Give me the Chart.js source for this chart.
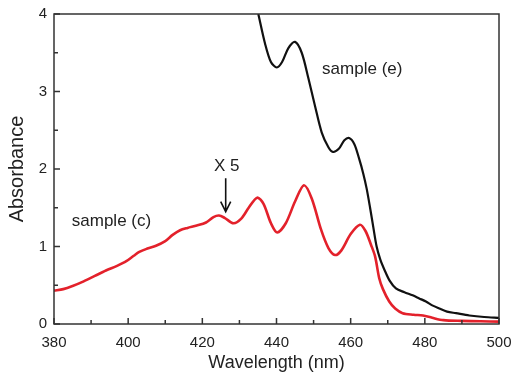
<!DOCTYPE html>
<html>
<head>
<meta charset="utf-8">
<script src="https://cdn.jsdelivr.net/npm/chart.js@4"></script>
<style>
  html, body { margin: 0; padding: 0; background: #fff; }
  #wrap { width: 516px; height: 375px; }
</style>
</head>
<body>
<div id="wrap"><canvas id="absCanvas" width="516" height="375"></canvas></div>
<script>
// sample (c), shown x 5
var wlC = [380, 382.5, 385, 388, 391, 394, 397, 399.5, 401.5, 403, 405, 407.5, 410, 412, 414, 416, 418.5, 421, 423, 424.5,
  426, 428.4, 430.5, 432.5, 434.8, 436.5, 438.5, 440.2, 442.5, 445, 447.4, 449.5, 452, 454, 455.8, 457.5, 460, 462.5,
  464, 465.5, 466.6, 467.7, 468.7, 470.4, 472, 474, 477, 479.5, 482, 485, 490, 495, 500];
var absC = [0.43, 0.45, 0.49, 0.55, 0.62, 0.69, 0.75, 0.81, 0.88, 0.93, 0.97, 1.01, 1.07, 1.15, 1.21, 1.24, 1.27, 1.31, 1.38, 1.40,
  1.37, 1.30, 1.36, 1.50, 1.63, 1.55, 1.30, 1.18, 1.30, 1.58, 1.79, 1.62, 1.22, 0.98, 0.89, 0.95, 1.16, 1.28,
  1.20, 1.02, 0.87, 0.59, 0.45, 0.29, 0.20, 0.14, 0.12, 0.11, 0.08, 0.05, 0.04, 0.035, 0.03];

// sample (e)
var wlE = [435.1, 436.9, 438.5, 440.1, 441.5, 443.2, 445, 446.8, 448.6, 450.4, 452.2, 454, 455.2, 456.8, 458.3, 459.6,
  461, 462.3, 463.4, 464.3, 465.2, 466.1, 467, 468, 469.1, 470.5, 472.2, 474.5, 476.7, 478.5, 480.3, 482, 483.9,
  486, 488.4, 492, 496, 500];
var absE = [4.0, 3.62, 3.38, 3.31, 3.38, 3.56, 3.64, 3.50, 3.17, 2.81, 2.47, 2.28, 2.22, 2.26, 2.37, 2.40,
  2.32, 2.13, 1.94, 1.75, 1.51, 1.25, 1.00, 0.83, 0.70, 0.56, 0.46, 0.41, 0.37, 0.33, 0.29, 0.24, 0.20,
  0.16, 0.14, 0.11, 0.09, 0.08];

var xMajor = [380, 400, 420, 440, 460, 480, 500];
var yMajor = [0, 1, 2, 3, 4];

function pts(xs, ys) {
  return xs.map(function (x, i) { return { x: x, y: ys[i] }; });
}

var textColor = '#222';
var font = '"Liberation Sans", Arial, Helvetica, sans-serif';

// frame, inward ticks and the labels inside the plot
var framePlugin = {
  id: 'frame',
  afterDraw: function (chart) {
    var ctx = chart.ctx, a = chart.chartArea;
    var xs = chart.scales.x, ys = chart.scales.y;
    ctx.save();
    ctx.strokeStyle = '#333';
    ctx.lineWidth = 1.5;
    ctx.strokeRect(a.left, a.top, a.right - a.left, a.bottom - a.top);
    ctx.beginPath();
    xs.ticks.forEach(function (t) {
      var px = xs.getPixelForValue(t.value);
      var len = xMajor.indexOf(t.value) >= 0 ? 6 : 4;
      ctx.moveTo(px, a.bottom);
      ctx.lineTo(px, a.bottom - len);
    });
    ys.ticks.forEach(function (t) {
      var py = ys.getPixelForValue(t.value);
      var len = yMajor.indexOf(t.value) >= 0 ? 6 : 4;
      ctx.moveTo(a.left, py);
      ctx.lineTo(a.left + len, py);
    });
    ctx.stroke();

    ctx.fillStyle = textColor;
    ctx.font = '17px ' + font;
    ctx.textBaseline = 'middle';
    ctx.textAlign = 'left';
    ctx.fillText('sample (e)', xs.getPixelForValue(452.3), ys.getPixelForValue(3.29));
    ctx.fillText('sample (c)', xs.getPixelForValue(384.8), ys.getPixelForValue(1.32));
    ctx.textAlign = 'center';
    ctx.fillText('X 5', xs.getPixelForValue(426.6), ys.getPixelForValue(2.03));

    // arrow
    var ax = xs.getPixelForValue(426.3);
    var y0 = ys.getPixelForValue(1.88), y1 = ys.getPixelForValue(1.45);
    ctx.strokeStyle = '#111';
    ctx.lineWidth = 1.6;
    ctx.beginPath();
    ctx.moveTo(ax, y0);
    ctx.lineTo(ax, y1 - 2);
    ctx.moveTo(ax - 5, y1 - 10);
    ctx.lineTo(ax, y1);
    ctx.lineTo(ax + 5, y1 - 10);
    ctx.stroke();
    ctx.restore();
  }
};

new Chart(document.getElementById('absCanvas'), {
  type: 'line',
  data: {
    datasets: [{
      label: 'sample (c)',
      data: pts(wlC, absC),
      borderColor: '#e3212b',
      borderWidth: 2.6,
      pointRadius: 0,
      tension: 0.3,
      fill: false,
      clip: 0
    }, {
      label: 'sample (e)',
      data: pts(wlE, absE),
      borderColor: '#111',
      borderWidth: 2.2,
      pointRadius: 0,
      tension: 0.3,
      fill: false,
      clip: 0
    }]
  },
  options: {
    responsive: false,
    animation: false,
    events: [],
    layout: { padding: { top: 14, right: 17, left: 0, bottom: 0 } },
    plugins: {
      legend: { display: false },
      tooltip: { enabled: false }
    },
    scales: {
      x: {
        type: 'linear',
        min: 380,
        max: 500,
        afterFit: function (s) { s.height = 51; s.paddingLeft = 0; s.paddingRight = 0; },
        grid: { display: false, drawTicks: false },
        border: { display: false },
        ticks: {
          stepSize: 10,
          padding: 10,
          maxRotation: 0,
          autoSkip: false,
          color: textColor,
          font: { family: font, size: 15 },
          callback: function (v) { return xMajor.indexOf(v) >= 0 ? String(v) : ''; }
        },
        title: {
          display: true,
          text: 'Wavelength (nm)',
          color: textColor,
          font: { family: font, size: 18, lineHeight: 1 },
          padding: { top: 0, bottom: 3 }
        }
      },
      y: {
        min: 0,
        max: 4,
        afterFit: function (s) { s.width = 54; s.paddingTop = 0; s.paddingBottom = 0; },
        grid: { display: false, drawTicks: false },
        border: { display: false },
        ticks: {
          stepSize: 0.5,
          padding: 7,
          autoSkip: false,
          color: textColor,
          font: { family: font, size: 15 },
          callback: function (v) { return yMajor.indexOf(v) >= 0 ? String(v) : ''; }
        },
        title: {
          display: true,
          text: 'Absorbance',
          color: textColor,
          font: { family: font, size: 20, lineHeight: 1 },
          padding: { top: 7, bottom: 0 }
        }
      }
    }
  },
  plugins: [framePlugin]
});
</script>
</body>
</html>
